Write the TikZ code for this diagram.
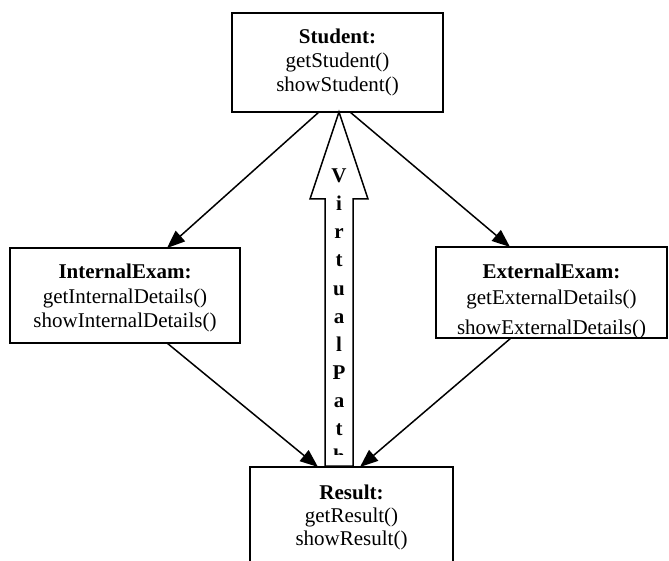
\documentclass[tikz,border=0pt]{standalone}
\usepackage{fontspec}
\setmainfont{Liberation Serif}
\usetikzlibrary{arrows.meta}
\begin{document}
\begin{tikzpicture}[x=1pt,y=-1pt,
  classbox/.style={draw=black,line width=1.6pt,rectangle,inner sep=0pt},
  ghostbox/.style={rectangle,inner sep=0pt},
  txt/.style={anchor=base,inner sep=0pt,font=\fontsize{21}{24}\selectfont},
  head/.style={txt,font=\fontsize{21}{24}\selectfont\bfseries},
  letter/.style={anchor=base,inner sep=0pt,font=\fontsize{21}{24}\selectfont\bfseries},
  link/.style={line width=1.5pt,-{Triangle[length=18pt,width=14pt]}}]
\useasboundingbox (0,0) rectangle (669,561);

% Class boxes
\node[classbox,minimum width=211,minimum height=99] (student) at (337.5,62.5) {};
\node[classbox,minimum width=230,minimum height=95] (internal) at (125,295.5) {};
\node[classbox,minimum width=231,minimum height=91] (external) at (551.5,292.5) {};
\node[ghostbox,minimum width=203,minimum height=94] (result) at (351.5,514) {};
\draw[line width=1.6pt] (result.south west) |- (result.north east) -- (result.south east);

% Student
\node[head] (studentT) at (337.5,44) {Student:};
\node[txt] (studentA) at (337.5,68) {getStudent()};
\node[txt] (studentB) at (337.5,92) {showStudent()};

% InternalExam
\node[head] (internalT) at (125,278.5) {InternalExam:};
\node[txt] (internalA) at (125,303) {getInternalDetails()};
\node[txt] (internalB) at (125,327) {showInternalDetails()};

% ExternalExam (last line runs into the lower border)
\begin{scope}
  \clip (437,248) rectangle (666,336.5);
  \node[head] (externalT) at (551.5,279) {ExternalExam:};
  \node[txt] (externalA) at (551.5,304) {getExternalDetails()};
  \node[txt] (externalB) at (551.5,334) {showExternalDetails()};
\end{scope}

% Result
\node[head] (resultT) at (351.5,499) {Result:};
\node[txt] (resultA) at (351.5,522) {getResult()};
\node[txt] (resultB) at (351.5,545) {showResult()};

% Connector end points
\coordinate (s1) at (319,112);
\coordinate (s2) at (350,112);
\coordinate (i1) at (167,248);
\coordinate (e1) at (510,247);
\coordinate (i2) at (167,343);
\coordinate (e2) at (511,338);
\coordinate (r1) at (318,467);
\coordinate (r2) at (360,467);

\draw[link] (s1) -- (i1);
\draw[link] (s2) -- (e1);
\draw[link] (i2) -- (r1);
\draw[link] (e2) -- (r2);

% Virtual path block arrow
\draw[line width=1.5pt,fill=white,line join=miter]
  (325,466) -- (325,199) -- (310,199) -- (339,112) -- (368,199) -- (353,199) -- (353,466) -- cycle;
\begin{scope}
  \clip (326,150) rectangle (352,454);
  \foreach \ch [count=\k from 0] in {V,i,r,t,u,a,l,P,a,t,h}
    \node[letter] (vp\k) at (339,183+28*\k) {\ch};
\end{scope}
\end{tikzpicture}
\end{document}
